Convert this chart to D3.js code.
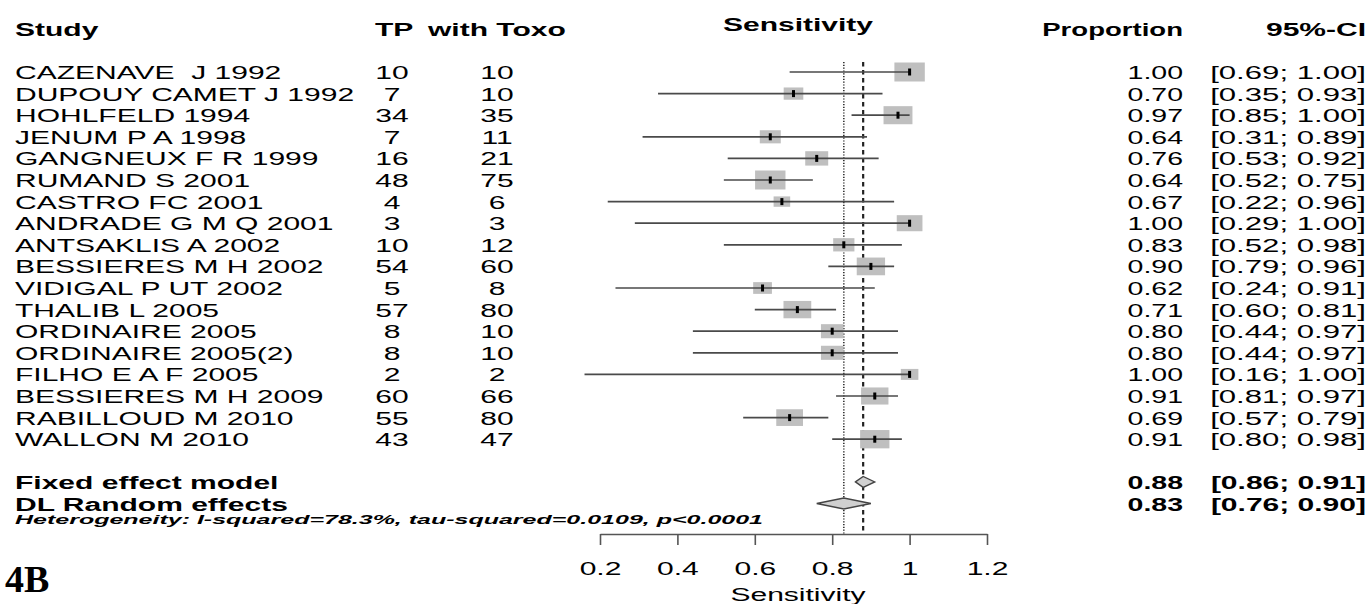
<!DOCTYPE html>
<html>
<head>
<meta charset="utf-8">
<script src="https://cdn.jsdelivr.net/npm/d3@7"></script>
<style>
  html, body { margin: 0; padding: 0; background: #fff; }
  svg { display: block; }
  svg text { white-space: pre; }
</style>
</head>
<body>
<script>
// Meta-analysis of sensitivity: per-study proportions with 95% CI
const studies = [
  "CAZENAVE  J 1992", "DUPOUY CAMET J 1992", "HOHLFELD 1994", "JENUM P A 1998",
  "GANGNEUX F R 1999", "RUMAND S 2001", "CASTRO FC 2001", "ANDRADE G M Q 2001",
  "ANTSAKLIS A 2002", "BESSIERES M H 2002", "VIDIGAL P UT 2002", "THALIB L 2005",
  "ORDINAIRE 2005", "ORDINAIRE 2005(2)", "FILHO E A F 2005", "BESSIERES M H 2009",
  "RABILLOUD M 2010", "WALLON M 2010"
];
const truePositives = [10, 7, 34, 7, 16, 48, 4, 3, 10, 54, 5, 57, 8, 8, 2, 60, 55, 43];
const withToxo      = [10, 10, 35, 11, 21, 75, 6, 3, 12, 60, 8, 80, 10, 10, 2, 66, 80, 47];
const proportion    = [1.00, 0.70, 0.97, 0.64, 0.76, 0.64, 0.67, 1.00, 0.83, 0.90, 0.62, 0.71, 0.80, 0.80, 1.00, 0.91, 0.69, 0.91];
const ciLower       = [0.69, 0.35, 0.85, 0.31, 0.53, 0.52, 0.22, 0.29, 0.52, 0.79, 0.24, 0.60, 0.44, 0.44, 0.16, 0.81, 0.57, 0.80];
const ciUpper       = [1.00, 0.93, 1.00, 0.89, 0.92, 0.75, 0.96, 1.00, 0.98, 0.96, 0.91, 0.81, 0.97, 0.97, 1.00, 0.97, 0.79, 0.98];
// study weights (%)
const weightPct     = [8.4, 3.5, 7.6, 4.0, 4.8, 8.4, 2.5, 6.0, 4.1, 7.3, 3.2, 7.0, 4.6, 4.6, 2.8, 6.8, 6.5, 7.8];

const pooledLabels = ["Fixed effect model", "DL Random effects"];
const pooledEst    = [0.88, 0.83];
const pooledLower  = [0.86, 0.76];
const pooledUpper  = [0.91, 0.90];
const heterogeneity = "Heterogeneity: I-squared=78.3%, tau-squared=0.0109, p<0.0001";
const axisTicks = [0.2, 0.4, 0.6, 0.8, 1.0, 1.2];

// ---- layout ----
const W = 1369, H = 604;
const SANS = "'Liberation Sans', Arial, Helvetica, sans-serif";
const SX = 1.58;            // horizontal stretch of the text
const FS = 19;
const rowTop = 72, rowStep = 21.6;
const rowY = i => rowTop + rowStep * i;
const axisY = 534;
const lineTop = 62;

const svg = d3.select("body").append("svg")
  .attr("width", W).attr("height", H);

const x = d3.scaleLinear().domain([0.2, 1.2]).range([600, 987]);
const boxH = d3.scaleSqrt().domain([0, 8.4]).range([0, 19]);
const BOX_ASPECT = 1.6;

function txt(s, px, py, opt = {}) {
  const t = svg.append("text")
    .attr("transform", `translate(${px},${py}) scale(${opt.sx || SX},1)`)
    .attr("text-anchor", opt.anchor || "start")
    .attr("font-family", opt.family || SANS)
    .attr("font-size", opt.size || FS)
    .attr("font-weight", opt.weight || "normal")
    .attr("font-style", opt.style || "normal")
    .attr("fill", "#000")
    .text(s);
  if (opt.len) t.attr("textLength", opt.len).attr("lengthAdjust", "spacingAndGlyphs");
  return t;
}

// ---- headers ----
txt("Study", 15, 36, { weight: "bold" });
txt("TP", 375, 36, { weight: "bold" });
txt("with Toxo", 428, 36, { weight: "bold" });
txt("Sensitivity", 798, 31, { weight: "bold", anchor: "middle" });
txt("Proportion", 1183, 36, { weight: "bold", anchor: "end", sx: 1.45 });
txt("95%-CI", 1366, 36, { weight: "bold", anchor: "end" });

// ---- reference lines (pooled estimates) ----
svg.append("line")
  .attr("x1", x(pooledEst[1])).attr("x2", x(pooledEst[1]))
  .attr("y1", lineTop).attr("y2", axisY)
  .attr("stroke", "#333").attr("stroke-width", 1.6)
  .attr("stroke-dasharray", "1.2,1.6");
svg.append("line")
  .attr("x1", x(pooledEst[0])).attr("x2", x(pooledEst[0]))
  .attr("y1", lineTop).attr("y2", axisY)
  .attr("stroke", "#222").attr("stroke-width", 2.2)
  .attr("stroke-dasharray", "4.5,3.5");

// ---- study rows ----
studies.forEach((name, i) => {
  const cy = rowY(i);
  const base = cy + 7;
  txt(name, 15, base);
  txt(String(truePositives[i]), 392, base, { anchor: "middle" });
  txt(String(withToxo[i]), 497, base, { anchor: "middle" });
  txt(proportion[i].toFixed(2), 1183, base, { anchor: "end", sx: 1.5 });
  txt(`[${ciLower[i].toFixed(2)}; ${ciUpper[i].toFixed(2)}]`, 1366, base, { anchor: "end", sx: 1.64 });

  const h = boxH(weightPct[i]);
  const w = h * BOX_ASPECT;
  svg.append("rect")
    .attr("x", x(proportion[i]) - w / 2).attr("y", cy - h / 2)
    .attr("width", w).attr("height", h)
    .attr("fill", "#bfbfbf");
  svg.append("line")
    .attr("x1", x(ciLower[i])).attr("x2", x(ciUpper[i]))
    .attr("y1", cy).attr("y2", cy)
    .attr("stroke", "#4a4a4a").attr("stroke-width", 1.7);
  svg.append("rect")
    .attr("x", x(proportion[i]) - 1.5).attr("y", cy - 3.5)
    .attr("width", 3).attr("height", 7)
    .attr("fill", "#000");
});

// ---- pooled rows ----
pooledLabels.forEach((lab, k) => {
  const cy = rowY(19 + k) - 0.5;
  const base = cy + 7;
  txt(lab, 15, base, { weight: "bold" });
  txt(pooledEst[k].toFixed(2), 1183, base, { anchor: "end", weight: "bold", sx: 1.5 });
  txt(`[${pooledLower[k].toFixed(2)}; ${pooledUpper[k].toFixed(2)}]`, 1366, base,
      { anchor: "end", weight: "bold", sx: 1.58 });
  const hh = 5.5;
  const pts = [
    [x(pooledLower[k]), cy], [x(pooledEst[k]), cy - hh],
    [x(pooledUpper[k]), cy], [x(pooledEst[k]), cy + hh]
  ];
  svg.append("path")
    .attr("d", d3.line()(pts) + "Z")
    .attr("fill", "#d0d0d0").attr("stroke", "#444").attr("stroke-width", 1.3);
});

txt(heterogeneity, 15, 524, { weight: "bold", style: "italic", size: 12.5, sx: 1, len: 748 });

// ---- x axis ----
const axis = d3.axisBottom(x)
  .tickValues(axisTicks)
  .tickFormat(d => String(+d.toFixed(1)))
  .tickSize(11).tickSizeOuter(0).tickPadding(16.5);
const ag = svg.append("g").attr("transform", `translate(0,${axisY})`).call(axis);
ag.select(".domain").attr("stroke", "#555").attr("stroke-width", 1.6);
ag.selectAll(".tick line").attr("stroke", "#555").attr("stroke-width", 1.6);
ag.selectAll(".tick text")
  .attr("font-family", SANS).attr("font-size", FS).attr("fill", "#000")
  .attr("transform", `scale(${SX},1)`);

txt("Sensitivity", 798, 601, { anchor: "middle" });

// ---- panel label ----
txt("4B", 5, 592, { family: "'Liberation Serif', 'Times New Roman', serif", weight: "bold", size: 38, sx: 1 });
</script>
</body>
</html>
